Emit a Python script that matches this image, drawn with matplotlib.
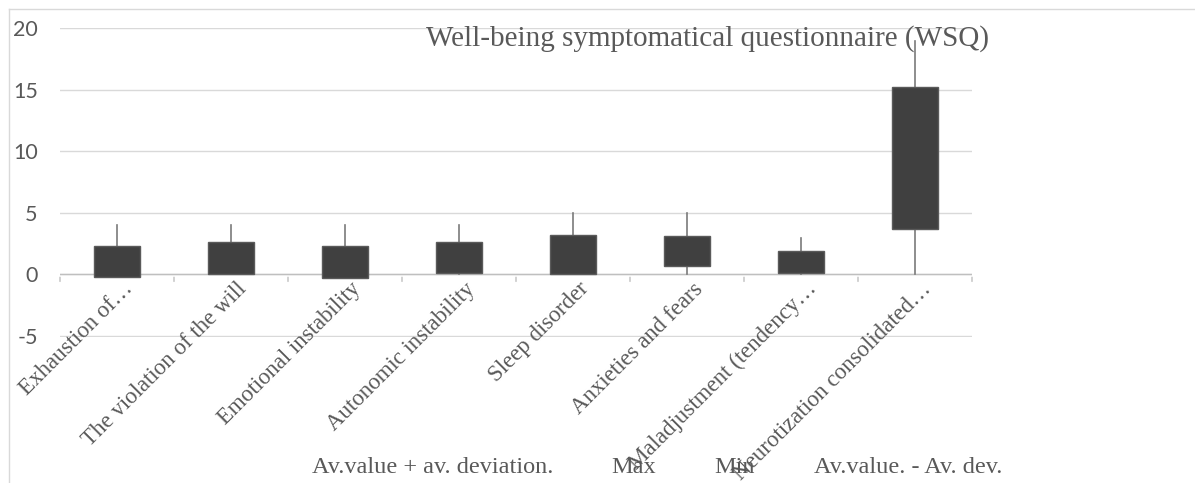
import matplotlib
matplotlib.use("Agg")
import matplotlib.pyplot as plt
from matplotlib.lines import Line2D
from matplotlib.patches import Rectangle
import matplotlib.transforms as mtransforms

# WSQ data
categories = ["Exhaustion of…", "The violation of the will", "Emotional instability",
              "Autonomic instability", "Sleep disorder", "Anxieties and fears",
              "Maladjustment (tendency…", "Neurotization consolidated…"]
avg_plus_dev = [2.3, 2.6, 2.3, 2.6, 3.2, 3.1, 1.9, 15.2]
max_vals = [4, 4, 4, 4, 5, 5, 3, 19]
min_vals = [0, 0, 0, 0, 0, 0, 0, 0]
avg_minus_dev = [-0.2, 0.0, -0.3, 0.1, 0.0, 0.7, 0.15, 3.7]
series_names = ["Av.value + av. deviation.", "Max", "Min", "Av.value. - Av. dev."]
yticks = [-5, 0, 5, 10, 15, 20]

serif = "Liberation Serif"
sans = "Lato"
txt = "#595959"

fig = plt.figure(figsize=(11.95, 4.83), dpi=100)
ax = fig.add_axes([60 / 1195, 1 - 337 / 483, 912 / 1195, 309 / 483])

n = len(categories)
box_w = 0.40
for i in range(n):
    x = i + 0.5
    ax.plot([x, x], [min_vals[i], max_vals[i]], color="#7a7a7a", lw=1.2, zorder=2)
    lo = min(avg_plus_dev[i], avg_minus_dev[i])
    hi = max(avg_plus_dev[i], avg_minus_dev[i])
    ax.add_patch(Rectangle((x - box_w / 2, lo), box_w, hi - lo,
                           facecolor="#404040", edgecolor="#5a5a5a", lw=1.0, zorder=3))

ax.set_xlim(0, n)
ax.set_ylim(-5.08, 20.02)
ax.set_yticks(yticks)
ax.set_yticklabels([str(v) for v in yticks], fontsize=15.5, color=txt, family=sans)
ax.tick_params(axis="y", length=0, pad=16)
ax.grid(axis="y", color="#d9d9d9", lw=1.0, zorder=0)
ax.set_axisbelow(True)
for s in ax.spines.values():
    s.set_visible(False)

# x axis at zero with tick marks at category borders
ax.axhline(0, color="#bfbfbf", lw=1.0, zorder=1)
ax.set_xticks(range(n + 1))
ax.set_xticklabels([])
ax.tick_params(axis="x", length=0)
for k in range(n + 1):
    ax.annotate("", xy=(k, 0), xytext=(0, -7), textcoords="offset points",
                arrowprops=dict(arrowstyle="-", color="#bfbfbf", lw=1.0),
                annotation_clip=False)

offset = mtransforms.offset_copy(ax.transData, fig=fig, x=20, y=-4, units="dots")
for i, lab in enumerate(categories):
    ax.text(i + 0.5, 0, lab, transform=offset, rotation=45, ha="right", va="top",
            fontsize=16.5, color=txt, family=serif)

fig.text(708 / 1195, 1 - 39 / 483, "Well-being symptomatical questionnaire (WSQ)",
         ha="center", va="center", fontsize=21, color=txt, family=serif)

handles = [Line2D([], [], linestyle="none") for _ in series_names]
fig.legend(handles, series_names, loc="center", bbox_to_anchor=(657 / 1195, 1 - 467 / 483),
           ncol=4, frameon=False, handlelength=0, handletextpad=0, columnspacing=2.4,
           prop={"family": serif, "size": 17.5}, labelcolor=txt)

# chart area border
fig.add_artist(Line2D([9 / 1195, 1], [1 - 9 / 483, 1 - 9 / 483], color="#d9d9d9", lw=1.0,
                      transform=fig.transFigure))
fig.add_artist(Line2D([9 / 1195, 9 / 1195], [0, 1 - 9 / 483], color="#d9d9d9", lw=1.0,
                      transform=fig.transFigure))

fig.savefig("out.png", dpi=100, facecolor="white")
